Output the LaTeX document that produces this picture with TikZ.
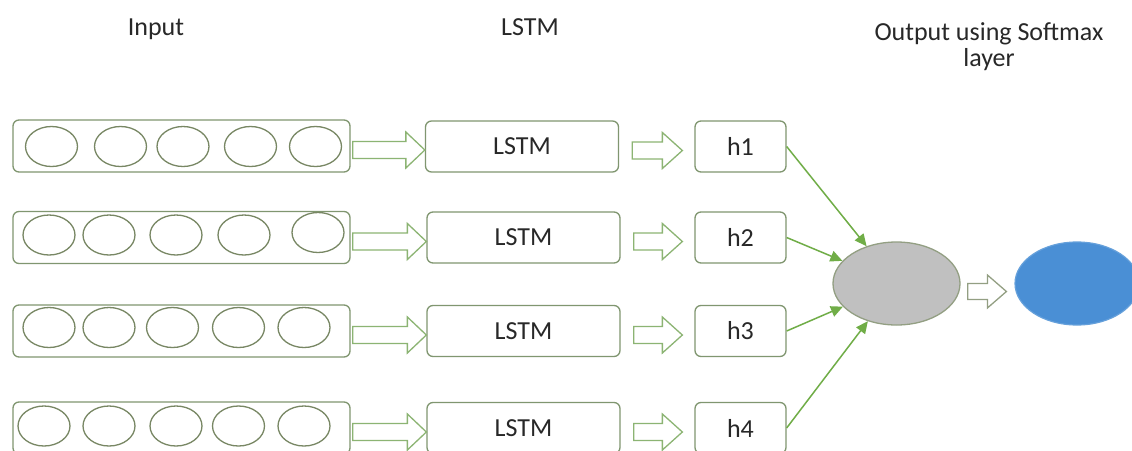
\documentclass[tikz,border=0pt]{standalone}
\usepackage{fontspec}
\setmainfont{Carlito}
\usetikzlibrary{arrows.meta,calc,shapes.geometric}
\definecolor{boxc}{RGB}{128,150,112}
\definecolor{cellc}{RGB}{120,135,100}
\definecolor{arrc}{RGB}{140,180,115}
\definecolor{lgreen}{RGB}{112,173,71}
\definecolor{txt}{RGB}{40,40,40}
\definecolor{grayfill}{RGB}{192,192,192}
\definecolor{bluefill}{RGB}{74,143,213}
\newcommand\blockarr[6]{%
  \draw[#6] let \p1=(#1), \p2=(#2) in
    (\x1,\y1+#3pt) -- (\x2-#5pt,\y1+#3pt) -- (\x2-#5pt,\y1+#4pt) -- (\x2,\y1)
    -- (\x2-#5pt,\y1-#4pt) -- (\x2-#5pt,\y1-#3pt) -- (\x1,\y1-#3pt) -- cycle;}
\begin{document}
\begin{tikzpicture}[x=1pt,y=-1pt,
  lbl/.style={font=\fontsize{26}{27}\selectfont, text=txt, inner sep=0pt, anchor=base},
  inbox/.style={draw=boxc, line width=1.3pt, rounded corners=6pt, minimum width=337pt, minimum height=52pt, inner sep=0pt},
  cell/.style={draw=cellc, line width=1.3pt, ellipse, minimum width=52pt, minimum height=40pt, inner sep=0pt},
  lstmbox/.style={draw=boxc, line width=1.3pt, rounded corners=6pt, minimum width=193pt, minimum height=51pt, inner sep=0pt, font=\fontsize{26}{27}\selectfont, text=txt},
  hbox/.style={draw=boxc, line width=1.3pt, rounded corners=6pt, minimum width=91pt, minimum height=51pt, inner sep=0pt, font=\fontsize{26}{27}\selectfont, text=txt},
  barr/.style={draw=arrc, fill=white, line width=1.3pt, line join=miter},
  garr/.style={draw=cellc!80, fill=white, line width=1.3pt, line join=miter},
  conn/.style={draw=lgreen, line width=1.5pt, -{Triangle[length=12pt,width=11pt]}}]
\useasboundingbox[fill=white] (0,0) rectangle (1132,450);

% headers
\node[lbl] (tin) at (156,35) {Input};
\node[lbl] (tlstm) at (530,35) {LSTM};
\node[lbl] (tout1) at (989,40) {Output using Softmax};
\node[lbl] (tout2) at (989,66) {layer};

% input boxes
\node[inbox] (in1) at (181.5,146) {};
\node[inbox] (in2) at (181.5,237.5) {};
\node[inbox] (in3) at (181.5,331) {};
\node[inbox] (in4) at (181.5,428) {};

% cells row 1
\node[cell] (c11) at (51.5,146.5) {};
\node[cell] (c12) at (120.5,146.5) {};
\node[cell] (c13) at (183,146.5) {};
\node[cell] (c14) at (250.5,146.5) {};
\node[cell] (c15) at (315.5,146.5) {};
% row 2
\node[cell] (c21) at (49,235) {};
\node[cell] (c22) at (109,235) {};
\node[cell] (c23) at (176,235) {};
\node[cell] (c24) at (244,235) {};
\node[cell] (c25) at (318,232.5) {};
% row 3
\node[cell] (c31) at (49,327.5) {};
\node[cell] (c32) at (109,327.5) {};
\node[cell] (c33) at (172.5,327.5) {};
\node[cell] (c34) at (238.5,327.5) {};
\node[cell] (c35) at (304,327.5) {};
% row 4
\node[cell] (c41) at (44,426) {};
\node[cell] (c42) at (109,426) {};
\node[cell] (c43) at (176,426) {};
\node[cell] (c44) at (238.5,426) {};
\node[cell] (c45) at (304,426) {};

% LSTM boxes
\node[lstmbox] (l1) at (522,146.5) {LSTM};
\node[lstmbox] (l2) at (523.5,237.5) {LSTM};
\node[lstmbox] (l3) at (523.5,331) {LSTM};
\node[lstmbox] (l4) at (523.5,428) {LSTM};

% h boxes
\node[hbox] (h1) at (740.5,146.5) {h1};
\node[hbox] (h2) at (740.5,237.5) {h2};
\node[hbox] (h3) at (740.5,331) {h3};
\node[hbox] (h4) at (740.5,428) {h4};

% output ellipses
\node[ellipse, draw=cellc!80, fill=grayfill, line width=1.3pt, minimum width=127pt, minimum height=83pt, inner sep=0pt] (g) at (896.5,283.5) {};
\node[ellipse, draw=bluefill!85!white, fill=bluefill, line width=1.2pt, minimum width=124pt, minimum height=83pt, inner sep=0pt] (b) at (1077,283.5) {};

% block arrows input -> LSTM
\blockarr{$(in1.east)+(2,4)$}{$(l1.west)+(0,4)$}{8.5}{18}{19}{barr}
\blockarr{$(in2.east)+(2,4)$}{$(l2.west)+(0,4)$}{8.5}{18}{19}{barr}
\blockarr{$(in3.east)+(2,4)$}{$(l3.west)+(0,4)$}{8.5}{18}{19}{barr}
\blockarr{$(in4.east)+(2,4)$}{$(l4.west)+(0,4)$}{8.5}{18}{19}{barr}
% LSTM -> h
\blockarr{$(l1.east)+(13,4)$}{$(h1.west)+(-12,4)$}{8.5}{18}{20}{barr}
\blockarr{$(l2.east)+(13,4)$}{$(h2.west)+(-12,4)$}{8.5}{18}{20}{barr}
\blockarr{$(l3.east)+(13,4)$}{$(h3.west)+(-12,4)$}{8.5}{18}{20}{barr}
\blockarr{$(l4.east)+(13,4)$}{$(h4.west)+(-12,4)$}{8.5}{18}{20}{barr}
% gray -> blue
\blockarr{$(g.east)+(7,8)$}{$(b.west)+(-8,8)$}{8}{16.5}{19}{garr}

% connectors
\draw[conn] (h1.east) -- (g);
\draw[conn] (h2.east) -- (g);
\draw[conn] (h3.east) -- (g);
\draw[conn] (h4.east) -- (g);
\end{tikzpicture}
\end{document}
